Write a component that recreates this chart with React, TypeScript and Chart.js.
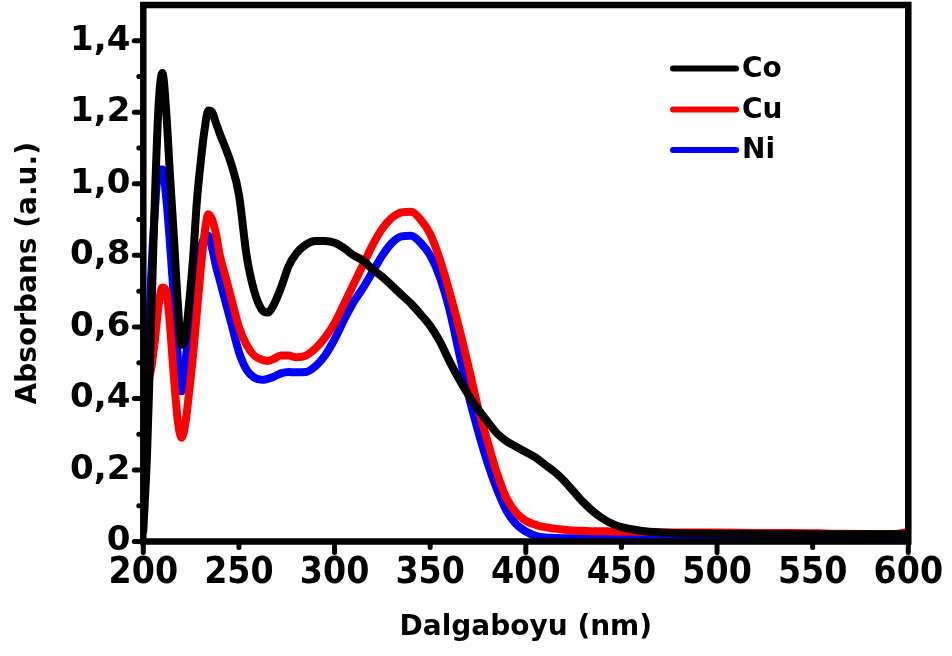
import { useEffect, useRef } from 'react';
import { Chart, registerables } from 'chart.js';

Chart.register(...registerables);

// Wavelength (nm)
const wavelengths = [
  200, 202, 204, 206, 208, 210, 212, 214, 216, 218, 220, 222, 224, 226, 228, 230, 232, 234, 236, 238,
  240, 243, 246, 250, 254, 258, 262, 265, 268, 272, 276, 280, 285, 290, 295, 300, 305, 310, 315, 320,
  325, 330, 335, 340, 345, 350, 355, 360, 365, 370, 375, 380, 385, 390, 395, 400, 405, 410, 415, 420,
  425, 430, 435, 440, 445, 450, 460, 470, 480, 500, 520, 540, 560, 580, 590, 595, 600,
];

const coValues = [
  0.03, 0.25, 0.6, 0.95, 1.22, 1.31, 1.2, 1.02, 0.85, 0.67, 0.55, 0.57, 0.67, 0.79, 0.95, 1.06, 1.15, 1.205, 1.2, 1.17,
  1.14, 1.1, 1.055, 0.97, 0.8, 0.7, 0.648, 0.64, 0.66, 0.71, 0.77, 0.805, 0.83, 0.84, 0.84, 0.835, 0.82, 0.8, 0.785, 0.76,
  0.74, 0.715, 0.69, 0.665, 0.635, 0.603, 0.56, 0.505, 0.455, 0.41, 0.37, 0.335, 0.302, 0.28, 0.265, 0.25, 0.235, 0.215, 0.195, 0.17,
  0.14, 0.11, 0.085, 0.065, 0.05, 0.04, 0.03, 0.025, 0.023, 0.022, 0.021, 0.02, 0.02, 0.02, 0.02, 0.02, 0.02,
];

const cuValues = [
  0.4, 0.44, 0.48, 0.56, 0.66, 0.71, 0.7, 0.6, 0.46, 0.34, 0.29, 0.33, 0.42, 0.52, 0.64, 0.76, 0.86, 0.915, 0.9, 0.86,
  0.8, 0.74, 0.68, 0.6, 0.55, 0.52, 0.508, 0.505, 0.51, 0.52, 0.52, 0.515, 0.52, 0.54, 0.57, 0.61, 0.665, 0.72, 0.775, 0.83,
  0.875, 0.905, 0.92, 0.922, 0.9, 0.86, 0.79, 0.7, 0.6, 0.49, 0.375, 0.28, 0.19, 0.12, 0.08, 0.058, 0.047, 0.04, 0.036, 0.033,
  0.031, 0.03, 0.029, 0.029, 0.028, 0.028, 0.027, 0.026, 0.025, 0.025, 0.024, 0.024, 0.022, 0.021, 0.021, 0.022, 0.027,
];

const niValues = [
  0.25, 0.45, 0.73, 0.92, 1.04, 1.04, 0.96, 0.83, 0.68, 0.52, 0.42, 0.5, 0.6, 0.7, 0.77, 0.82, 0.85, 0.855, 0.82, 0.77,
  0.73, 0.67, 0.61, 0.53, 0.48, 0.458, 0.452, 0.455, 0.46, 0.47, 0.474, 0.473, 0.474, 0.49, 0.52, 0.565, 0.62, 0.67, 0.71, 0.755,
  0.8, 0.835, 0.853, 0.855, 0.835, 0.8, 0.74, 0.65, 0.53, 0.41, 0.31, 0.22, 0.145, 0.085, 0.048, 0.028, 0.016, 0.011, 0.01, 0.009,
  0.009, 0.009, 0.009, 0.009, 0.009, 0.009, 0.009, 0.009, 0.009, 0.009, 0.009, 0.009, 0.009, 0.009, 0.009, 0.01, 0.014,
];

const seriesNames = ['Co', 'Cu', 'Ni'];
const seriesColors = ['#000000', '#ff0000', '#0000ff'];
const seriesValues = [coValues, cuValues, niValues];

const xTitle = 'Dalgaboyu (nm)';
const yTitle = 'Absorbans (a.u.)';

const formatY = (v: number) => {
  const tenth = Math.round(v * 10);
  if (tenth % 2 !== 0) return '';
  if (tenth === 0) return '0';
  return (tenth / 10).toFixed(1).replace('.', ',');
};

const framePlugin = {
  id: 'frameAndLegend',
  afterDatasetsDraw(chart: any) {
    const { ctx, chartArea } = chart;
    const { left, right, top, bottom } = chartArea;
    const xs = chart.scales.x;
    const ys = chart.scales.y;
    ctx.save();
    ctx.strokeStyle = '#000';
    ctx.lineCap = 'round';
    ctx.lineWidth = 5;
    xs.ticks.forEach((t: any) => {
      const px = xs.getPixelForValue(t.value);
      const major = Math.round(t.value) % 100 === 0;
      ctx.beginPath();
      ctx.moveTo(px, bottom);
      ctx.lineTo(px, bottom + (major ? 11 : 6));
      ctx.stroke();
    });
    ys.ticks.forEach((t: any) => {
      const tenth = Math.round(t.value * 10);
      if (tenth >= 15) return;
      const py = ys.getPixelForValue(t.value);
      const major = tenth % 2 === 0;
      ctx.beginPath();
      ctx.moveTo(left, py);
      ctx.lineTo(left - (major ? 9 : 4.5), py);
      ctx.stroke();
    });
    ctx.lineCap = 'square';
    ctx.lineJoin = 'miter';
    ctx.lineWidth = 6.5;
    ctx.strokeRect(left, top, right - left, bottom - top);

    // legend
    const legendY = [68.5, 109.5, 150];
    ctx.lineCap = 'round';
    ctx.lineWidth = 6;
    ctx.font = "bold 28px 'DejaVu Sans'";
    ctx.textBaseline = 'middle';
    ctx.textAlign = 'left';
    seriesNames.forEach((name, i) => {
      ctx.strokeStyle = seriesColors[i];
      ctx.beginPath();
      ctx.moveTo(673, legendY[i]);
      ctx.lineTo(736, legendY[i]);
      ctx.stroke();
      ctx.fillStyle = '#000';
      ctx.fillText(name, 742, legendY[i] + 1);
    });
    ctx.restore();
  },
};

export default function App() {
  const canvasRef = useRef<HTMLCanvasElement | null>(null);

  useEffect(() => {
    if (!canvasRef.current) return;
    const chart = new Chart(canvasRef.current, {
      type: 'line',
      data: {
        datasets: seriesNames.map((name, i) => ({
          label: name,
          data: wavelengths.map((w, j) => ({ x: w, y: seriesValues[i][j] })),
          borderColor: seriesColors[i],
          backgroundColor: seriesColors[i],
          borderWidth: 8,
          pointRadius: 0,
          fill: false,
          cubicInterpolationMode: 'monotone' as const,
          borderJoinStyle: 'round' as const,
          borderCapStyle: 'round' as const,
        })),
      },
      options: {
        animation: false,
        responsive: false,
        devicePixelRatio: 1,
        layout: { padding: { left: 0, top: 5, right: 43.7, bottom: 0 } },
        plugins: {
          legend: { display: false },
          tooltip: { enabled: false },
        },
        scales: {
          x: {
            type: 'linear',
            min: 200,
            max: 600,
            grid: { display: false, drawTicks: false },
            border: { display: false },
            ticks: {
              stepSize: 50,
              autoSkip: false,
              maxRotation: 0,
              padding: 10,
              color: '#000',
              font: { family: "'DejaVu Sans Condensed', 'Liberation Sans', sans-serif", weight: 'bold', size: 37 },
            },
            title: {
              display: true,
              text: xTitle,
              color: '#000',
              font: { family: "'DejaVu Sans', sans-serif", weight: 'bold', size: 28 },
              padding: { top: 0, bottom: 11 },
            },
            afterFit: (scale: any) => {
              scale.height = 114.5;
              scale.paddingLeft = 0;
              scale.paddingRight = 0;
            },
          },
          y: {
            type: 'linear',
            min: 0,
            max: 1.5,
            grid: { display: false, drawTicks: false },
            border: { display: false },
            ticks: {
              stepSize: 0.1,
              autoSkip: false,
              padding: 13,
              color: '#000',
              callback: (v: any) => formatY(Number(v)),
              font: { family: "'DejaVu Sans', sans-serif", weight: 'bold', size: 34 },
            },
            title: {
              display: true,
              text: yTitle,
              color: '#000',
              font: { family: "'DejaVu Sans', sans-serif", weight: 'bold', size: 28 },
              padding: { top: 12, bottom: 0 },
            },
            afterFit: (scale: any) => {
              scale.width = 143.3;
              scale.paddingTop = 0;
              scale.paddingBottom = 0;
            },
          },
        },
      },
      plugins: [framePlugin],
    });
    return () => chart.destroy();
  }, []);

  return (
    <div style={{ position: 'absolute', left: 0, top: 0, width: 952, height: 656, background: '#fff' }}>
      <canvas ref={canvasRef} width={952} height={656} style={{ width: 952, height: 656, display: 'block' }} />
    </div>
  );
}
